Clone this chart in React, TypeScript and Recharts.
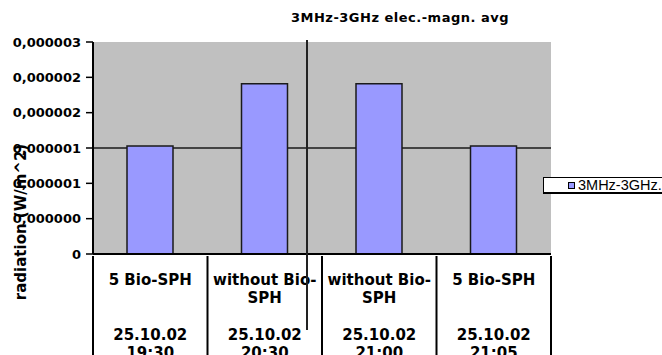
import { BarChart, Bar, XAxis, YAxis, CartesianGrid, Legend } from 'recharts'

// measurement labels (two text rows each) plus date/time rows
const labelTop = ['5 Bio-SPH', 'without Bio-', 'without Bio-', '5 Bio-SPH']
const labelBottom = ['', 'SPH', 'SPH', '']
const dates = ['25.10.02', '25.10.02', '25.10.02', '25.10.02']
const times = ['19:30', '20:30', '21:00', '21:05']

// average radiation in W/m^2
const radiation = [0.00000153, 0.00000241, 0.00000241, 0.00000153]

const yMax = 0.000003
const yTicks = [0, 0.0000005, 0.000001, 0.0000015, 0.000002, 0.0000025, 0.000003]
const yTickLabels = ['0', '0,000000', '0,000001', '0,000001', '0,000002', '0,000002', '0,000003']
const gridValues = [0.0000015]

const seriesName = '3MHz-3GHz.'
const chartTitle = '3MHz-3GHz elec.-magn. avg'
const yTitle = 'radiation (W/m^2)'

const data = radiation.map((value, i) => ({ key: `m${i}`, value }))

const BOLD = "'DejaVu Sans', sans-serif"

// map a value to a pixel row, whichever shape the grid's axis scale comes in
function gridRows({ yAxis, offset }: any): number[] {
  const s = yAxis?.scale
  return gridValues.map(v => {
    if (typeof s === 'function') return s(v)
    if (s && typeof s.map === 'function') return s.map(v)
    if (s && typeof s.apply === 'function') return s.apply(v)
    return offset.top + offset.height * (1 - v / yMax)
  })
}

function MeasurementTick(props: any) {
  const { x, y, payload, index } = props
  const i = typeof index === 'number' ? index : data.findIndex(d => d.key === payload.value)
  const half = payload?.offset || 57.25
  const rows = [labelTop[i], labelBottom[i], '', dates[i], times[i]]
  return (
    <g>
      <line x1={x - half} x2={x - half} y1={y} y2={y + 110} stroke="#000" strokeWidth={2} />
      {i === data.length - 1 && (
        <line x1={x + half} x2={x + half} y1={y} y2={y + 110} stroke="#000" strokeWidth={2} />
      )}
      <text textAnchor="middle" fill="#000" fontFamily={BOLD} fontWeight="bold" fontSize={15}>
        {rows.map((r, k) => (
          <tspan key={k} x={x} y={y + 29 + k * 18.3}>{r}</tspan>
        ))}
      </text>
    </g>
  )
}

function LegendBox(props: any) {
  const item = props.payload?.[0]
  return (
    <div
      style={{
        display: 'flex',
        alignItems: 'center',
        height: 14,
        background: '#fff',
        borderTop: '1px solid #000',
        borderLeft: '1px solid #000',
        borderBottom: '2px solid #000',
        fontFamily: "'Liberation Sans', Arial, sans-serif",
        fontSize: 14.5,
        color: '#000',
        whiteSpace: 'nowrap',
      }}
    >
      <span
        style={{
          display: 'inline-block',
          width: 5,
          height: 5,
          background: item?.color || '#9999ff',
          border: '1px solid #000',
          marginLeft: 24,
          marginRight: 3,
        }}
      />
      {item?.value}
    </div>
  )
}

export default function App() {
  return (
    <div
      style={{
        position: 'absolute',
        left: 0,
        top: 0,
        width: 662,
        height: 355,
        background: '#fff',
        overflow: 'hidden',
      }}
    >
      <div
        style={{
          position: 'absolute',
          left: 400,
          top: 11,
          transform: 'translateX(-50%)',
          fontFamily: BOLD,
          fontWeight: 'bold',
          fontSize: 13,
          lineHeight: '13px',
          letterSpacing: 0.5,
          whiteSpace: 'nowrap',
          color: '#000',
        }}
      >
        {chartTitle}
      </div>
      <BarChart width={662} height={355} data={data} margin={{ top: 42, right: 111, bottom: 0, left: 0 }}>
        <CartesianGrid
          fill="#c0c0c0"
          fillOpacity={1}
          vertical={false}
          stroke="#1a1a1a"
          strokeWidth={1.5}
          horizontalCoordinatesGenerator={gridRows}
        />
        <XAxis
          dataKey="key"
          interval={0}
          height={101}
          tickSize={0}
          tickLine={false}
          axisLine={{ stroke: '#000', strokeWidth: 2 }}
          tick={<MeasurementTick />}
        />
        <XAxis
          xAxisId="top"
          orientation="top"
          dataKey="key"
          height={0}
          tick={false}
          tickLine={false}
          axisLine={{ stroke: '#808080', strokeWidth: 2 }}
        />
        <YAxis
          width={93}
          domain={[0, yMax]}
          ticks={yTicks}
          interval={0}
          allowDataOverflow
          tickFormatter={(v: number) => yTickLabels[yTicks.indexOf(v)] ?? ''}
          tickSize={7}
          tickMargin={5}
          axisLine={{ stroke: '#000', strokeWidth: 2 }}
          tickLine={{ stroke: '#000', strokeWidth: 1.5 }}
          tick={{ fill: '#000', fontSize: 13, fontWeight: 'bold', fontFamily: BOLD }}
          label={{
            content: () => (
              <text
                transform="translate(21,222) rotate(-90)"
                textAnchor="middle"
                dominantBaseline="central"
                fill="#000"
                fontFamily={BOLD}
                fontWeight="bold"
                fontSize={15}
              >
                {yTitle}
              </text>
            ),
          }}
        />
        <YAxis
          yAxisId="right"
          orientation="right"
          width={0}
          domain={[0, yMax]}
          tick={false}
          tickLine={false}
          axisLine={{ stroke: '#808080', strokeWidth: 2 }}
        />
        <Legend
          layout="vertical"
          align="center"
          verticalAlign="middle"
          content={<LegendBox />}
          wrapperStyle={{ position: 'absolute', left: 543, top: 177, width: 130, height: 17 }}
        />
        <Bar
          dataKey="value"
          name={seriesName}
          fill="#9999ff"
          stroke="#1a1a1a"
          strokeWidth={1.5}
          barSize={46}
          isAnimationActive={false}
        />
      </BarChart>
      {/* stray vertical rule across the chart */}
      <div style={{ position: 'absolute', left: 306, top: 40, width: 2, height: 290, background: '#222' }} />
    </div>
  )
}
